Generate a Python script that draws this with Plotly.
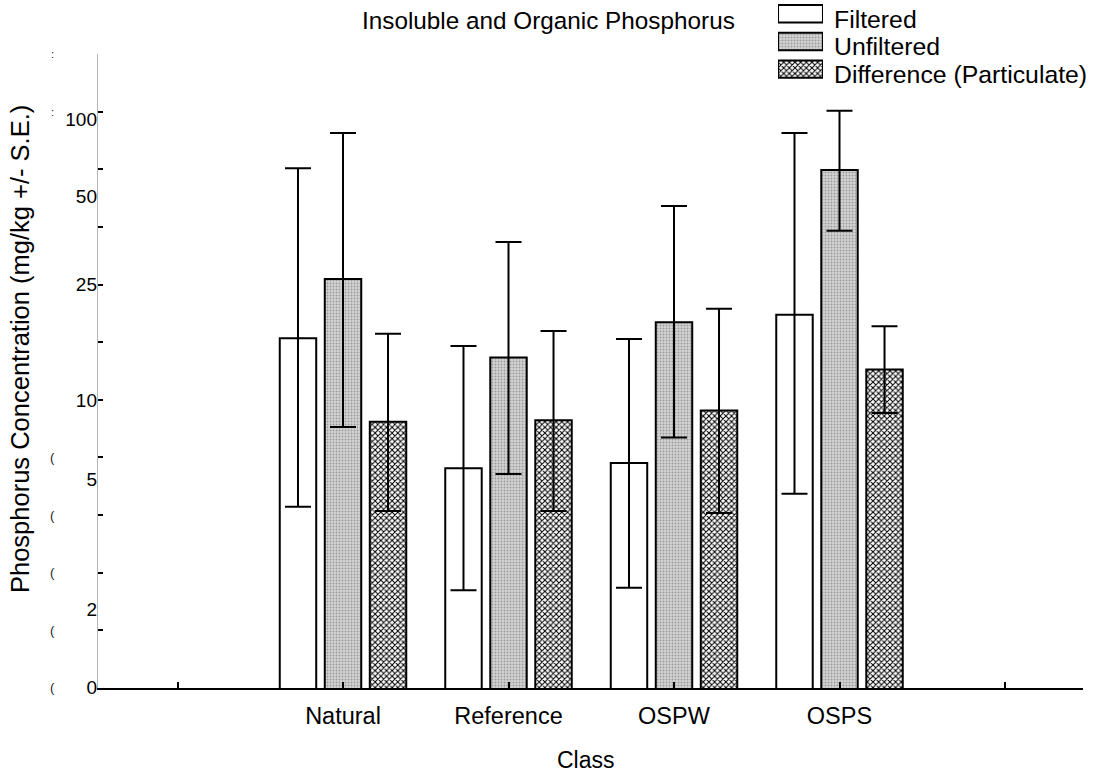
import plotly.graph_objects as go
import math

# ---------------- data ----------------
categories = ["Natural", "Reference", "OSPW", "OSPS"]

filtered = [16.2, 5.5, 5.75, 19.7]
filtered_hi = [66.5, 15.2, 16.1, 89.0]
filtered_lo = [4.0, 2.0, 2.04, 4.45]

unfiltered = [26.5, 13.8, 18.5, 65.5]
unfiltered_hi = [89.0, 36.0, 48.6, 107.0]
unfiltered_lo = [7.76, 5.25, 7.1, 39.5]

difference = [8.1, 8.2, 8.9, 12.5]
difference_hi = [16.8, 17.2, 20.7, 17.9]
difference_lo = [3.86, 3.86, 3.8, 8.7]

series_names = ["Filtered", "Unfiltered", "Difference (Particulate)"]

# y tick labels as printed on the reference axis
ytick_text = ["0", "2", "5", "10", "25", "50", "100"]
ytick_vals = [0.89, 1.7, 5, 9.7, 25.4, 52.4, 100]

title_text = "Insoluble and Organic Phosphorus"
x_title = "Class"
y_title = "Phosphorus Concentration (mg/kg +/- S.E.)"

FONT = "Liberation Sans, Arial, sans-serif"

# ---------------- styles ----------------
styles = [
    dict(color="white"),
    dict(color="#d2d2d2",
         pattern=dict(shape=".", fgcolor="#9a9a9a", bgcolor="#d4d4d4",
                      size=3, solidity=0.3, fillmode="replace")),
    dict(color="white",
         pattern=dict(shape="x", fgcolor="black", bgcolor="white",
                      size=4, solidity=0.45, fillmode="replace")),
]

xpos = [i + 1 for i in range(len(categories))]


def err(vals, hi, lo):
    return dict(type="data", symmetric=False,
                array=[h - v for h, v in zip(hi, vals)],
                arrayminus=[v - l for v, l in zip(vals, lo)],
                color="black", thickness=2, width=13)


fig = go.Figure()
data_sets = [(filtered, filtered_hi, filtered_lo),
             (unfiltered, unfiltered_hi, unfiltered_lo),
             (difference, difference_hi, difference_lo)]
for name, (vals, hi, lo), st in zip(series_names, data_sets, styles):
    fig.add_trace(go.Bar(
        name=name, x=xpos, y=vals,
        error_y=err(vals, hi, lo),
        marker=dict(**st, line=dict(color="black", width=2)),
        showlegend=False, xaxis="x", yaxis="y",
    ))

# legend swatches (one small bar per series on an auxiliary axis)
for name, st in zip(series_names, styles):
    fig.add_trace(go.Bar(
        orientation="h", x=[1], y=[name], width=0.63, offset=-0.315,
        xaxis="x3", yaxis="y3", showlegend=False, hoverinfo="skip",
        marker=dict(**st, line=dict(color="black", width=2)),
    ))

ydom = [0, 0.9215]

fig.update_layout(
    width=1098, height=774, autosize=False,
    margin=dict(l=98, r=15, t=0, b=86),
    paper_bgcolor="white", plot_bgcolor="white",
    font=dict(family=FONT, color="black", size=23),
    barmode="group", bargap=0.184, bargroupgap=0.19,
    xaxis=dict(
        range=[-0.4804, 5.4713], domain=[0, 1], anchor="y",
        tickmode="array", tickvals=[0, 1, 2, 3, 4, 5],
        ticktext=[""] + categories + [""],
        ticks="inside", ticklen=6, tickwidth=2, tickcolor="black",
        showline=True, linecolor="black", linewidth=2,
        showgrid=False, zeroline=False,
        tickfont=dict(size=23.5, family=FONT, color="black"),
        ticklabelstandoff=6,
    ),
    yaxis=dict(
        type="log", domain=ydom, anchor="x",
        range=[math.log10(0.888), math.log10(171.5)],
        tickmode="array", tickvals=ytick_vals, ticktext=ytick_text,
        ticks="", showline=False, showgrid=False, zeroline=False,
        tickfont=dict(size=19, family=FONT, color="black"),
    ),
    yaxis2=dict(
        overlaying="y", anchor="x", side="left",
        range=[0, 11], tickmode="linear", tick0=0, dtick=1,
        ticks="inside", ticklen=5, tickwidth=2, tickcolor="black",
        showticklabels=False, showline=True, linecolor="#b4b4b4",
        linewidth=1, showgrid=False, zeroline=False,
    ),
    xaxis3=dict(domain=[0.6904, 0.7360], range=[0, 1], anchor="y3",
                visible=False, fixedrange=True),
    yaxis3=dict(domain=[0.8794, 1.0], anchor="x3", autorange="reversed",
                type="category", categoryorder="array",
                categoryarray=series_names,
                visible=False, fixedrange=True),
)

annotations = [
    dict(text=title_text, x=0.4569, y=0.9695, xref="paper", yref="paper",
         xanchor="center", yanchor="middle", showarrow=False,
         font=dict(size=24.3, family=FONT)),
    dict(text=x_title, x=0.4954, y=-0.1047, xref="paper", yref="paper",
         xanchor="center", yanchor="middle", showarrow=False,
         font=dict(size=23, family=FONT)),
    dict(text=y_title, x=-0.0792, y=0.4927, xref="paper", yref="paper",
         xanchor="center", yanchor="middle", textangle=-90, showarrow=False,
         font=dict(size=25.5, family=FONT)),
]
for name, yp in zip(series_names, [0.972, 0.9317, 0.8914]):
    annotations.append(dict(text=name, x=0.7452, y=yp, xref="paper", yref="paper",
                            xanchor="left", yanchor="middle", showarrow=False,
                            font=dict(size=24.8, family=FONT)))
# clipped leftover glyphs at the far left edge
for v in [0, 1, 2, 3, 4]:
    annotations.append(dict(text="(", x=-0.0467, y=v, xref="paper", yref="y2",
                            xanchor="center", yanchor="middle", showarrow=False,
                            font=dict(size=13, family=FONT, color="#222")))
for v in [10, 11]:
    annotations.append(dict(text=":", x=-0.0467, y=v, xref="paper", yref="y2",
                            xanchor="center", yanchor="middle", showarrow=False,
                            font=dict(size=11, family=FONT, color="#222")))
fig.update_layout(annotations=annotations)

fig.write_html("out.html")
